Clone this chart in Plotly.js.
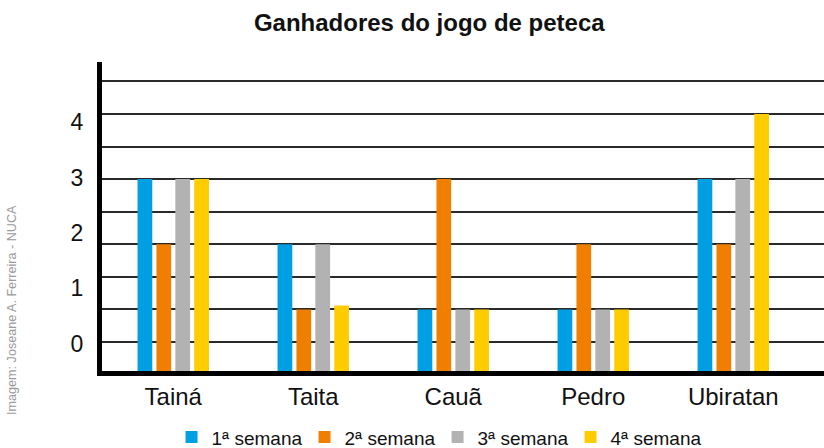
<!DOCTYPE html>
<html>
<head>
<meta charset="utf-8">
<script src="https://cdn.plot.ly/plotly-3.0.1.min.js"></script>
<style>
  html, body { margin: 0; padding: 0; background: #fff; }
  #chart { width: 824px; height: 448px; }
</style>
</head>
<body>
<div id="chart"></div>
<script>
// Data
const categories = ['Tainá', 'Taita', 'Cauã', 'Pedro', 'Ubiratan'];
const seriesNames = ['1ª semana', '2ª semana', '3ª semana', '4ª semana'];
const semana1 = [3, 2, 1, 1, 3];
const semana2 = [2, 1, 3, 2, 2];
const semana3 = [3, 2, 1, 1, 3];
const semana4 = [3, 1.06, 1, 1, 4];
const yTickLabels = ['0', '1', '2', '3', '4'];

const seriesValues = [semana1, semana2, semana3, semana4];
const colors = ['#009fe3', '#f07f00', '#b2b2b2', '#ffcc00'];

const traces = seriesValues.map((vals, i) => ({
  type: 'bar',
  name: seriesNames[i],
  x: categories,
  y: vals,
  marker: { color: colors[i], line: { width: 0 } },
  hoverinfo: 'x+y+name'
}));

const font = 'Liberation Sans, Arial, Helvetica, sans-serif';
// where the reference prints its y labels (as drawn in the picture)
const yLabelPos = [0.47, 1.33, 2.18, 3.02, 3.88];
const yRange = [0.055, 4.797];

const layout = {
  width: 824,
  height: 448,
  margin: { l: 102, r: 0, t: 62, b: 77, pad: 0 },
  paper_bgcolor: '#ffffff',
  plot_bgcolor: '#ffffff',
  font: { family: font, color: '#111111' },
  title: {
    text: '<b>Ganhadores do jogo de peteca</b>',
    font: { family: font, size: 24, color: '#111111' },
    xref: 'container', x: 0.521, xanchor: 'center',
    yref: 'container', y: 0.949, yanchor: 'middle'
  },
  barmode: 'group',
  bargap: 0.46,
  bargroupgap: 0.22,
  xaxis: {
    type: 'category',
    range: [-0.509, 4.648],
    showgrid: false,
    zeroline: false,
    showline: true,
    linecolor: '#000000',
    linewidth: 5,
    ticks: '',
    tickfont: { family: font, size: 24, color: '#111111' },
    fixedrange: true
  },
  yaxis: {
    range: yRange,
    tickmode: 'array',
    tickvals: yLabelPos,
    ticktext: yTickLabels,
    showgrid: false,
    zeroline: false,
    showline: true,
    linecolor: '#000000',
    linewidth: 5,
    ticks: '',
    ticklabelstandoff: 9,
    tickfont: { family: font, size: 23, color: '#111111' },
    minor: {
      tickmode: 'linear',
      tick0: 0,
      dtick: 0.5,
      showgrid: true,
      gridcolor: '#2a2a2a',
      gridwidth: 2,
      ticks: ''
    },
    fixedrange: true
  },
  showlegend: true,
  legend: {
    orientation: 'h',
    xref: 'container', x: 0.531, xanchor: 'center',
    yref: 'container', y: 0.024, yanchor: 'middle',
    font: { family: font, size: 19, color: '#111111' },
    entrywidth: 88,
    entrywidthmode: 'pixels',
    itemclick: false,
    itemdoubleclick: false,
    bgcolor: 'rgba(0,0,0,0)'
  },
  annotations: [{
    text: 'Imagem: Joseane A. Ferreira - NUCA',
    xref: 'paper', yref: 'paper',
    x: -0.125, y: 0.197,
    xanchor: 'center', yanchor: 'middle',
    textangle: -90,
    showarrow: false,
    font: { family: font, size: 12.6, color: '#9a9a9a' }
  }]
};

Plotly.newPlot('chart', traces, layout, { displayModeBar: false, staticPlot: true });
</script>
</body>
</html>
